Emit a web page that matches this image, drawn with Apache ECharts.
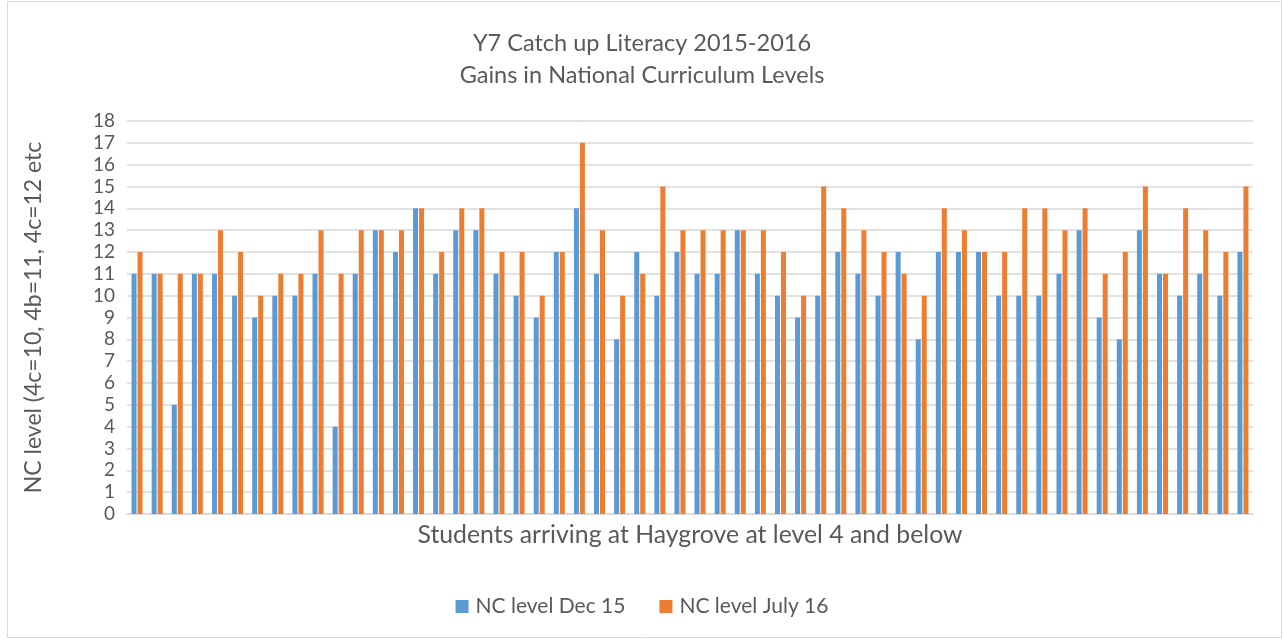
<!DOCTYPE html>
<html>
<head>
<meta charset="utf-8">
<script src="https://cdn.jsdelivr.net/npm/echarts@6/dist/echarts.min.js"></script>
<style>
html,body{margin:0;padding:0;background:#fff;}
#chart{width:1284px;height:640px;}
</style>
</head>
<body>
<div id="chart"></div>
<script>
const titleLines = ['Y7 Catch up Literacy 2015-2016', 'Gains in National Curriculum Levels'];
const yAxisName = 'NC level (4c=10, 4b=11, 4c=12 etc';
const xAxisName = 'Students arriving at Haygrove at level 4 and below';
const seriesNames = ['NC level Dec 15', 'NC level July 16'];
const categories = Array.from({length: 56}, (_, i) => String(i + 1));
const dec15 = [11,11,5,11,11,10,9,10,10,11,4,11,13,12,14,11,13,13,11,10,9,12,14,11,8,12,10,12,11,11,13,11,10,9,10,12,11,10,12,8,12,12,12,10,10,10,11,13,9,8,13,11,10,11,10,12];
const july16 = [12,11,11,11,13,12,10,11,11,13,11,13,13,13,14,12,14,14,12,12,10,12,17,13,10,11,15,13,13,13,13,13,12,10,15,14,13,12,11,10,14,13,12,12,14,14,13,14,11,12,15,11,14,13,12,15];
const yMin = 0, yMax = 18, yStep = 1;

const FONT = 'Lato';
const TXT = '#595959';
const chart = echarts.init(document.getElementById('chart'));
chart.setOption({
  animation: false,
  backgroundColor: '#fff',
  textStyle: {fontFamily: FONT, color: TXT},
  graphic: [{
    type: 'rect',
    shape: {x: 7.5, y: 1.5, width: 1274, height: 636},
    style: {fill: 'none', stroke: '#d9d9d9', lineWidth: 1}
  }],
  title: {
    text: titleLines.join('\n'),
    left: 'center', top: 22,
    textStyle: {fontFamily: FONT, fontSize: 23.5, fontWeight: 'normal', color: TXT, lineHeight: 32}
  },
  legend: {
    data: seriesNames,
    top: 591, left: 'center',
    itemWidth: 13, itemHeight: 13, itemGap: 34,
    icon: 'rect',
    textStyle: {fontFamily: FONT, fontSize: 21, color: TXT, padding: [0, 0, 0, 2]}
  },
  grid: {left: 127, right: 31, top: 121, bottom: 126, containLabel: false},
  xAxis: {
    type: 'category',
    data: categories,
    name: xAxisName,
    nameLocation: 'middle',
    nameGap: 9,
    nameTextStyle: {fontFamily: FONT, fontSize: 24.8, color: TXT},
    axisLine: {lineStyle: {color: '#d9d9d9', width: 1.5}},
    axisTick: {show: false},
    axisLabel: {show: false}
  },
  yAxis: {
    type: 'value',
    min: yMin, max: yMax, interval: yStep,
    name: yAxisName,
    nameLocation: 'middle',
    nameGap: 82,
    nameRotate: 90,
    nameTextStyle: {fontFamily: FONT, fontSize: 23, color: TXT},
    axisLine: {show: false},
    axisTick: {show: false},
    axisLabel: {fontFamily: FONT, fontSize: 19, color: TXT, margin: 12},
    splitLine: {lineStyle: {color: '#d9d9d9', width: 1.5}}
  },
  series: [
    {name: seriesNames[0], type: 'bar', data: dec15, barWidth: 5, barGap: '20%',
     itemStyle: {color: '#5b9bd5'}},
    {name: seriesNames[1], type: 'bar', data: july16, barWidth: 5, barGap: '20%',
     itemStyle: {color: '#ed7d31'}}
  ]
});
</script>
</body>
</html>
